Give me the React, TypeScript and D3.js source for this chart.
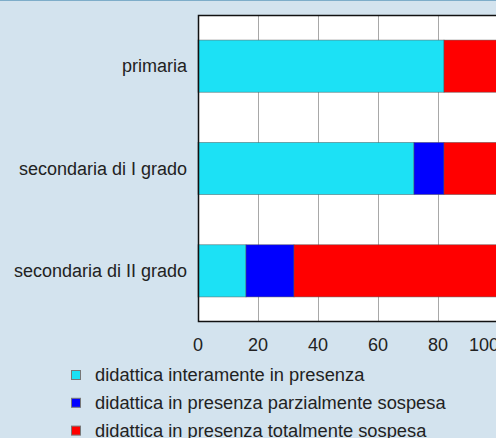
import React from "react";
import * as d3 from "d3";

const categories = ["primaria", "secondaria di I grado", "secondaria di II grado"];
const seriesNames = [
  "didattica interamente in presenza",
  "didattica in presenza parzialmente sospesa",
  "didattica in presenza totalmente sospesa",
];
const interamente = [82, 72, 16];
const parzialmente = [0, 10, 16];
const totalmente = [18, 18, 68];
const xTicks = [0, 20, 40, 60, 80, 100];
const colors = ["#1ce1f5", "#0000ff", "#ff0000"];

const W = 496;
const H = 438;
const FONT = "'Liberation Sans', Arial, Helvetica, sans-serif";

export default function App() {
  const left = 198;
  const top = 15;
  const bottom = 322;
  const x = d3.scaleLinear().domain([0, 100]).range([left, left + 300]);
  const y = d3
    .scaleBand<string>()
    .domain(categories)
    .range([top, bottom])
    .paddingInner(0.49)
    .paddingOuter(0.245);

  const rows = categories.map((c, i) => ({
    cat: c,
    interamente: interamente[i],
    parzialmente: parzialmente[i],
    totalmente: totalmente[i],
  }));
  const keys = ["interamente", "parzialmente", "totalmente"];
  const stack = d3.stack<any>().keys(keys)(rows);
  const lastTick = xTicks[xTicks.length - 1];

  return (
    <svg
      width={W}
      height={H}
      style={{ position: "absolute", left: 0, top: 0, display: "block" }}
      fontFamily={FONT}
    >
      <rect x={0} y={0} width={W} height={H} fill="#d3e3ee" />
      <line x1={0} x2={W} y1={0.5} y2={0.5} stroke="#7eadc9" strokeWidth={1} />
      <rect x={left} y={top} width={W - left + 10} height={bottom - top} fill="#ffffff" />
      {xTicks.slice(1).map((t) => (
        <line
          key={"g" + t}
          x1={Math.round(x(t)) + 0.5}
          x2={Math.round(x(t)) + 0.5}
          y1={top}
          y2={bottom}
          stroke="#a8a8a8"
          strokeWidth={1}
        />
      ))}
      {stack.map((s, si) =>
        s.map((d, i) => {
          const w = x(d[1]) - x(d[0]);
          if (w <= 0) return null;
          return (
            <rect
              key={si + "-" + i}
              x={x(d[0])}
              y={y(categories[i])!}
              width={w}
              height={y.bandwidth()}
              fill={colors[si]}
              stroke="#555"
              strokeOpacity={0.6}
              strokeWidth={0.8}
            />
          );
        })
      )}
      <path
        d={`M${W + 5},${top + 0.5}H${left + 0.5}V${bottom - 0.5}H${W + 5}`}
        fill="none"
        stroke="#111"
        strokeWidth={1.5}
      />
      {categories.map((c) => (
        <text
          key={c}
          x={187}
          y={y(c)! + y.bandwidth() / 2}
          dy="0.35em"
          textAnchor="end"
          fontSize={18}
          fill="#222"
        >
          {c}
        </text>
      ))}
      {xTicks.map((t) => (
        <text
          key={"t" + t}
          x={t === lastTick ? x(t) + 1 : x(t)}
          y={351}
          textAnchor={t === lastTick ? "end" : "middle"}
          fontSize={18}
          fill="#222"
        >
          {t}
        </text>
      ))}
      {seriesNames.map((n, i) => (
        <g key={n} transform={`translate(0, ${375 + i * 27.8})`}>
          <rect x={71.5} y={-4.5} width={9} height={9} fill={colors[i]} stroke="#777" strokeWidth={1} />
          <text x={95} y={0} dy="0.35em" fontSize={18.3} fill="#222">
            {n}
          </text>
        </g>
      ))}
    </svg>
  );
}
